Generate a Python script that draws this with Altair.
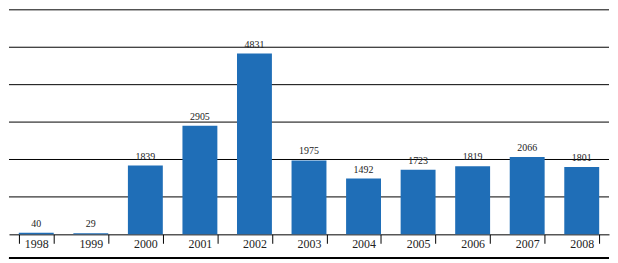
import altair as alt
import pandas as pd

years = ["1998", "1999", "2000", "2001", "2002", "2003", "2004", "2005", "2006", "2007", "2008"]
values = [40, 29, 1839, 2905, 4831, 1975, 1492, 1723, 1819, 2066, 1801]
grid_values = [1000, 2000, 3000, 4000, 5000, 6000]

df = pd.DataFrame({"year": years, "value": values})
gdf = pd.DataFrame({"g": grid_values})

W = 604
H = 226
FONT = "'Liberation Serif', 'Times New Roman', 'DejaVu Serif', serif"

x = alt.X("year:N", sort=years, title=None,
          scale=alt.Scale(paddingInner=0.36, paddingOuter=0.18),
          axis=alt.Axis(labelAngle=0, tickBand="extent", tickSize=9, tickColor="black",
                        tickWidth=1, domainColor="black", domainWidth=1,
                        labelPadding=-5, labelBaseline="top", labelFont=FONT,
                        labelFontSize=12, labelColor="#222", grid=False))
y = alt.Y("value:Q", title=None, scale=alt.Scale(domain=[0, 6000], nice=False),
          axis=None)

grid = alt.Chart(gdf).mark_rule(color="black", strokeWidth=1).encode(
    y=alt.Y("g:Q", scale=alt.Scale(domain=[0, 6000], nice=False), axis=None),
    x=alt.value(0), x2=alt.value(W))

base = alt.Chart(df)
bars = base.mark_bar(color="#1f6eb7").encode(x=x, y=y)
labels = base.mark_text(baseline="bottom", dy=-4, font=FONT, fontSize=10,
                        color="#222").encode(x=alt.X("year:N", sort=years), y="value:Q",
                                             text="value:Q")
bottom = base.mark_rule(color="black", strokeWidth=1).encode(
    x=alt.value(0), x2=alt.value(W), y=alt.value(H + 24))

chart = alt.layer(grid, bars, labels, bottom).properties(
    width=W, height=H, padding=0
).configure_view(stroke=None)

chart.save("out.html", embed_options={"renderer": "svg", "actions": False})
